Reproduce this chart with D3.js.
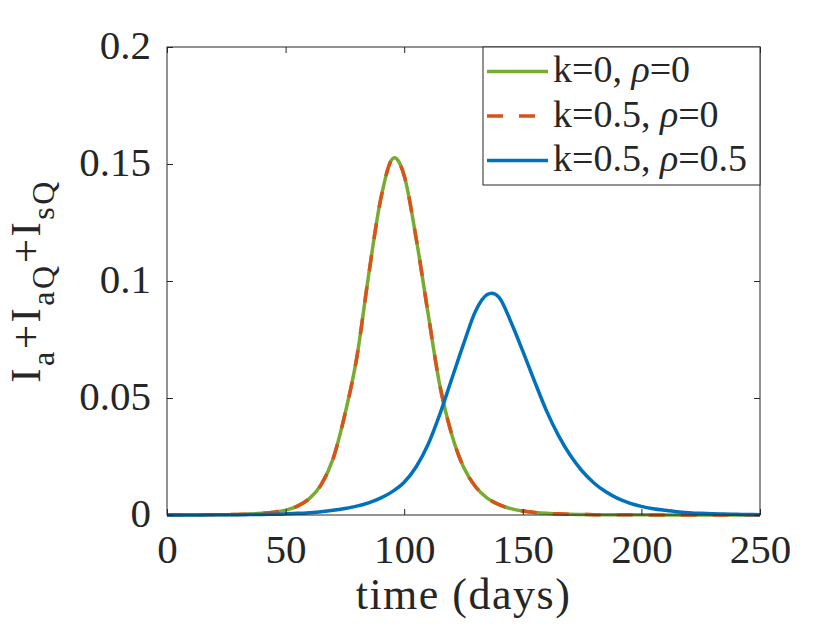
<!DOCTYPE html>
<html>
<head>
<meta charset="utf-8">
<script src="https://cdn.jsdelivr.net/npm/d3@7"></script>
<style>
  html, body { margin: 0; padding: 0; background: #fff; }
  svg text { font-family: "Liberation Serif", "DejaVu Serif", serif; fill: #262626; }
</style>
</head>
<body>
<div id="chart"></div>
<script>
// time points (days)
const days = d3.range(0, 251, 5);

// k=0, rho=0
const k0rho0 = [
  0.00002, 0.00003, 0.00004, 0.00006, 0.0001, 0.00015, 0.00025, 0.0004, 0.0007, 0.0012,
  0.0021, 0.0038, 0.0070, 0.0130, 0.0240, 0.0430, 0.0672, 0.1025, 0.1345, 0.1522,
  0.1450, 0.1185, 0.0865, 0.0555, 0.0345, 0.0205, 0.0122, 0.0072, 0.0044, 0.0027,
  0.0017, 0.0011, 0.0007, 0.0005, 0.0003, 0.0002, 0.00015, 0.0001, 0.0001, 0.00008,
  0.00006, 0.00005, 0.00004, 0.00003, 0.00003, 0.00002, 0.00002, 0.00002, 0.00001, 0.00001,
  0.00001
];

// k=0.5, rho=0 (lies on top of the k=0 curve)
const k05rho0 = [
  0.00002, 0.00003, 0.00004, 0.00006, 0.0001, 0.00015, 0.00025, 0.0004, 0.0007, 0.0012,
  0.0021, 0.0038, 0.0070, 0.0130, 0.0240, 0.0430, 0.0672, 0.1025, 0.1345, 0.1522,
  0.1450, 0.1185, 0.0865, 0.0555, 0.0345, 0.0205, 0.0122, 0.0072, 0.0044, 0.0027,
  0.0017, 0.0011, 0.0007, 0.0005, 0.0003, 0.0002, 0.00015, 0.0001, 0.0001, 0.00008,
  0.00006, 0.00005, 0.00004, 0.00003, 0.00003, 0.00002, 0.00002, 0.00002, 0.00001, 0.00001,
  0.00001
];

// k=0.5, rho=0.5
const k05rho05 = [
  0.00002, 0.00003, 0.00004, 0.00005, 0.00007, 0.0001, 0.00013, 0.00018, 0.00025, 0.00035,
  0.0005, 0.0007, 0.001, 0.0014, 0.002, 0.0028, 0.0038, 0.0052, 0.0072, 0.0100,
  0.0140, 0.0205, 0.0300, 0.0430, 0.0580, 0.0730, 0.0870, 0.0942, 0.0930, 0.0825,
  0.0700, 0.0570, 0.0445, 0.0340, 0.0255, 0.0188, 0.0137, 0.0099, 0.0071, 0.0051,
  0.0037, 0.0027, 0.0020, 0.0014, 0.0010, 0.0007, 0.0005, 0.0004, 0.0003, 0.0002,
  0.00015
];

const xTicks = [0, 50, 100, 150, 200, 250];
const yTicks = [0, 0.05, 0.1, 0.15, 0.2];
const yTickLabels = ["0", "0.05", "0.1", "0.15", "0.2"];

const seriesNames = ["k=0, ", "k=0.5, ", "k=0.5, "];
const seriesRho = ["=0", "=0", "=0.5"];
const seriesColors = ["#77AC30", "#D95319", "#0072BD"];
const seriesDash = [null, "16,16", null];
const seriesValues = [k0rho0, k05rho0, k05rho05];

// --- chart setup ---
const W = 840, H = 630;
const margin = { top: 47, right: 80, bottom: 115, left: 167 },
      width = W - margin.left - margin.right,
      height = H - margin.top - margin.bottom;

const root = d3.select("#chart").append("svg")
  .attr("width", W)
  .attr("height", H);

const svg = root.append("g")
  .attr("transform", `translate(${margin.left},${margin.top})`);

const x = d3.scaleLinear().domain([0, 250]).range([0, width]);
const y = d3.scaleLinear().domain([0, 0.2]).range([height, 0]);

const axisColor = "#262626";

// Curves
const line = d3.line()
  .x(d => x(d[0]))
  .y(d => y(d[1]))
  .curve(d3.curveCatmullRom.alpha(0));

const plot = svg.append("g");
seriesValues.forEach((vals, i) => {
  plot.append("path")
    .datum(days.map((t, j) => [t, vals[j]]))
    .attr("fill", "none")
    .attr("stroke", seriesColors[i])
    .attr("stroke-width", 3.5)
    .attr("stroke-dasharray", seriesDash[i])
    .attr("d", line);
});

// Box and inward ticks on all four sides
const tickLen = 6;
svg.append("rect")
  .attr("x", 0).attr("y", 0)
  .attr("width", width).attr("height", height)
  .attr("fill", "none")
  .attr("stroke", axisColor)
  .attr("stroke-width", 1);

const gBottom = svg.append("g")
  .attr("transform", `translate(0,${height})`)
  .call(d3.axisBottom(x).tickValues(xTicks).tickSizeInner(-tickLen).tickSizeOuter(0).tickPadding(24));
gBottom.select(".domain").remove();
gBottom.selectAll("line").attr("stroke", axisColor);
gBottom.selectAll("text")
  .attr("font-size", "41px")
  .attr("fill", axisColor)
  .attr("dy", null)
  .attr("y", 48);

const gTop = svg.append("g")
  .call(d3.axisTop(x).tickValues(xTicks).tickSizeInner(-tickLen).tickSizeOuter(0).tickFormat(""));
gTop.select(".domain").remove();
gTop.selectAll("line").attr("stroke", axisColor);

const gLeft = svg.append("g")
  .call(d3.axisLeft(y).tickValues(yTicks).tickSizeInner(-tickLen).tickSizeOuter(0)
    .tickFormat((d, i) => yTickLabels[i]));
gLeft.select(".domain").remove();
gLeft.selectAll("line").attr("stroke", axisColor);
gLeft.selectAll("text")
  .attr("font-size", "41px")
  .attr("fill", axisColor)
  .attr("x", -16)
  .attr("dy", "11px");

const gRight = svg.append("g")
  .attr("transform", `translate(${width},0)`)
  .call(d3.axisRight(y).tickValues(yTicks).tickSizeInner(-tickLen).tickSizeOuter(0).tickFormat(""));
gRight.select(".domain").remove();
gRight.selectAll("line").attr("stroke", axisColor);

// X label
svg.append("text")
  .attr("x", width / 2)
  .attr("y", height + 94)
  .attr("text-anchor", "middle")
  .attr("font-size", "44px")
  .attr("letter-spacing", "1.5px")
  .text("time (days)");

// Y label: I_a + I_aQ + I_sQ
const yl = root.append("text")
  .attr("transform", `translate(40,${margin.top + height / 2}) rotate(-90)`)
  .attr("text-anchor", "middle")
  .attr("font-size", "43px")
  .attr("letter-spacing", "2.5px");
const yParts = [["I", false], ["a", true], ["+I", false], ["aQ", true], ["+I", false], ["sQ", true]];
yParts.forEach(([t, sub]) => {
  yl.append("tspan")
    .attr("dy", sub ? 14 : -14)
    .attr("font-size", sub ? "32px" : "43px")
    .text(t);
});
yl.select("tspan").attr("dy", 0);

// Legend
const legend = svg.append("g").attr("transform", `translate(${width - 277},0)`);
legend.append("rect")
  .attr("width", 277).attr("height", 138)
  .attr("fill", "#fff")
  .attr("stroke", axisColor)
  .attr("stroke-width", 1);

seriesNames.forEach((name, i) => {
  const ly = 24.5 + i * 44.5;
  legend.append("line")
    .attr("x1", 4).attr("x2", 65)
    .attr("y1", ly).attr("y2", ly)
    .attr("stroke", seriesColors[i])
    .attr("stroke-width", 3.5)
    .attr("stroke-dasharray", seriesDash[i]);
  const t = legend.append("text")
    .attr("x", 70)
    .attr("y", ly + 10.5)
    .attr("font-size", "38px");
  t.append("tspan").text(name);
  t.append("tspan").attr("font-style", "italic").text("ρ");
  t.append("tspan").text(seriesRho[i]);
});
</script>
</body>
</html>
